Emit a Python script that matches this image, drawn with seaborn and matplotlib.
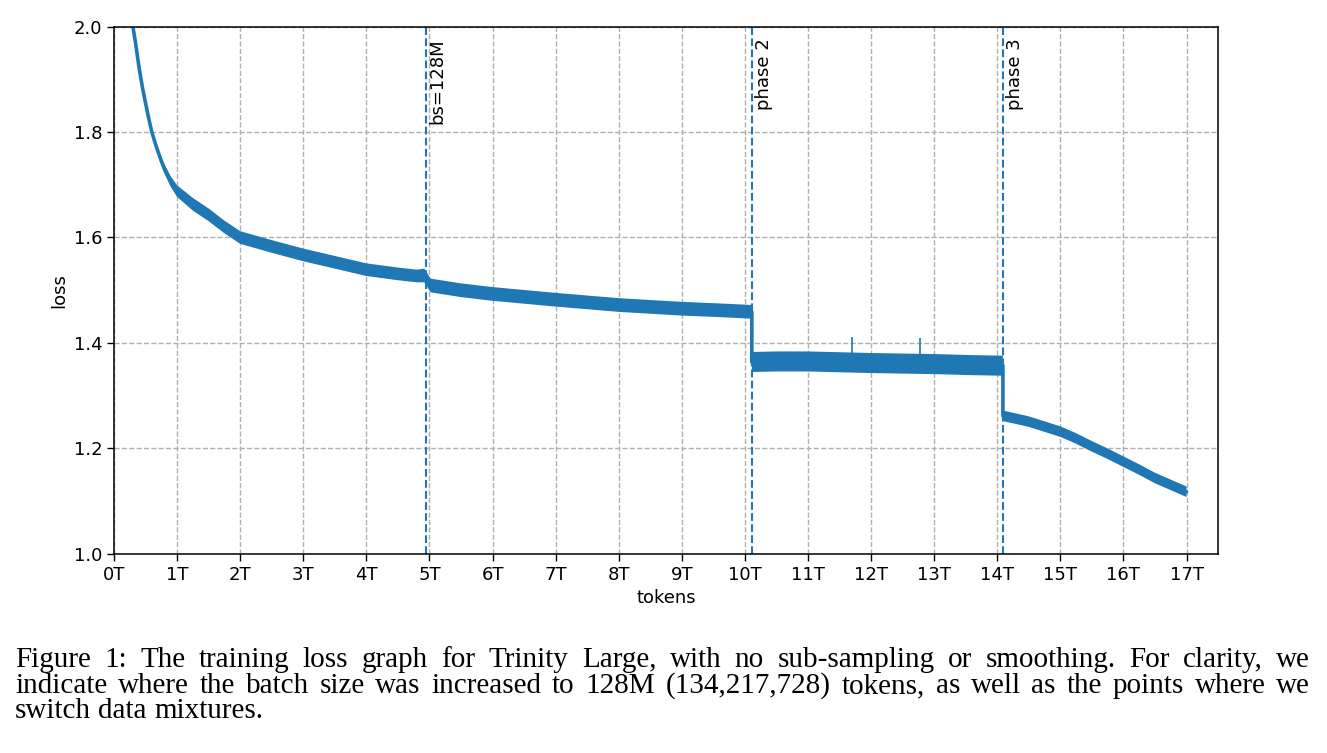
import numpy as np
import seaborn as sns
import matplotlib
matplotlib.use("Agg")
import matplotlib.pyplot as plt

# training loss (tokens in T), center of the noisy band
tokens = [0.05, 0.15, 0.25, 0.30, 0.34, 0.40, 0.45, 0.50, 0.55, 0.60, 0.65, 0.70, 0.75, 0.80, 0.90,
          1.00, 1.25, 1.50, 1.75, 2.00, 2.50, 3.00, 3.50, 4.00, 4.50, 4.80, 4.92,
          5.02, 5.50, 6.00, 7.00, 8.00, 9.00, 9.60, 10.11,
          10.11, 10.50, 11.00, 12.00, 13.00, 13.60, 14.09,
          14.09, 14.50, 15.00, 15.25, 15.50, 15.75, 16.00, 16.25, 16.50, 16.75, 17.00]
loss = [3.00, 2.35, 2.08, 2.00, 1.97, 1.92, 1.885, 1.855, 1.826, 1.80, 1.78, 1.762, 1.745, 1.73, 1.706,
        1.688, 1.663, 1.643, 1.62, 1.60, 1.583, 1.567, 1.553, 1.539, 1.531, 1.527, 1.528,
        1.509, 1.500, 1.493, 1.482, 1.472, 1.465, 1.462, 1.459,
        1.364, 1.365, 1.365, 1.362, 1.360, 1.358, 1.357,
        1.262, 1.251, 1.232, 1.219, 1.204, 1.190, 1.175, 1.160, 1.144, 1.131, 1.118]
# half height of the noise band around the center
spread = [0.001, 0.001, 0.001, 0.001, 0.001, 0.002, 0.002, 0.003, 0.004, 0.005, 0.006, 0.007, 0.008, 0.009, 0.010,
          0.011, 0.012, 0.012, 0.012, 0.012, 0.012, 0.012, 0.012, 0.012, 0.012, 0.012, 0.013,
          0.013, 0.013, 0.013, 0.013, 0.013, 0.013, 0.013, 0.013,
          0.019, 0.019, 0.019, 0.019, 0.019, 0.019, 0.019,
          0.010, 0.010, 0.010, 0.010, 0.010, 0.010, 0.010, 0.010, 0.010, 0.010, 0.010]

# isolated spikes
spike_tokens = [11.70, 12.77]
spike_top = [1.412, 1.409]

# events
event_tokens = [4.94, 10.11, 14.09]
event_labels = ["bs=128M", "phase 2", "phase 3"]

xtick_vals = list(range(0, 18))
xtick_labels = [f"{i}T" for i in xtick_vals]
ytick_vals = [1.0, 1.2, 1.4, 1.6, 1.8, 2.0]

caption_lines = [
    "Figure 1: The training loss graph for Trinity Large, with no sub-sampling or smoothing.  For clarity, we",
    "indicate where the batch size was increased to 128M (134,217,728) tokens, as well as the points where we",
    "switch data mixtures.",
]

sns.set_style("ticks", {"axes.edgecolor": "black", "xtick.color": "black", "ytick.color": "black",
                        "axes.labelcolor": "black", "text.color": "black"})
plt.rcParams["font.family"] = ["DejaVu Sans"]

fig = plt.figure(figsize=(13.27, 7.53), dpi=100)
ax = fig.add_axes([0.0859, 0.2643, 0.8320, 0.7005])

t = np.array(tokens)
l = np.array(loss)
s = np.array(spread)
blue = "#1f77b4"

ax.fill_between(t, l - s, l + s, color=blue, lw=0)
sns.lineplot(x=t, y=l, ax=ax, color=blue, lw=2.6, estimator=None, sort=False)
for sx, st in zip(spike_tokens, spike_top):
    ax.vlines(sx, np.interp(sx, t[35:42], l[35:42]), st, color=blue, lw=1.2)

for ex, lab in zip(event_tokens, event_labels):
    ax.axvline(ex, color=blue, ls="--", lw=1.5)
    ax.text(ex + 0.05, 1.978, lab, rotation=90, ha="left", va="top", fontsize=13)

ax.set_xlim(0, 17.5)
ax.set_ylim(1.0, 2.0)
ax.set_xticks(xtick_vals)
ax.set_xticklabels(xtick_labels)
ax.set_yticks(ytick_vals)
ax.set_yticklabels([f"{v:.1f}" for v in ytick_vals])
ax.tick_params(labelsize=13, length=5, width=1)
ax.grid(True, color="#b0b0b0", ls="--", lw=1)
ax.set_axisbelow(True)
for sp in ax.spines.values():
    sp.set_linewidth(1.1)
    sp.set_visible(True)
ax.set_xlabel("tokens", fontsize=13)
ax.set_ylabel("loss", fontsize=13)

# caption, justified like the paper
renderer = fig.canvas.get_renderer()
W, H = fig.get_size_inches() * fig.dpi
x_left, x_right = 15, 1310
baselines = [667, 693, 718]
cap_kw = dict(family="Liberation Serif", fontsize=21, va="baseline", ha="left")
for i, (line, yb) in enumerate(zip(caption_lines, baselines)):
    words = line.split()
    texts = [fig.text(0, 1 - yb / H, w, **cap_kw) for w in words]
    widths = [tx.get_window_extent(renderer).width for tx in texts]
    if i < len(caption_lines) - 1:
        gap = (x_right - x_left - sum(widths)) / (len(words) - 1)
    else:
        gap = 0.25 * cap_kw["fontsize"] * fig.dpi / 72
    x = x_left
    for tx, w in zip(texts, widths):
        tx.set_x(x / W)
        x += w + gap

fig.savefig("out.png", dpi=100)
